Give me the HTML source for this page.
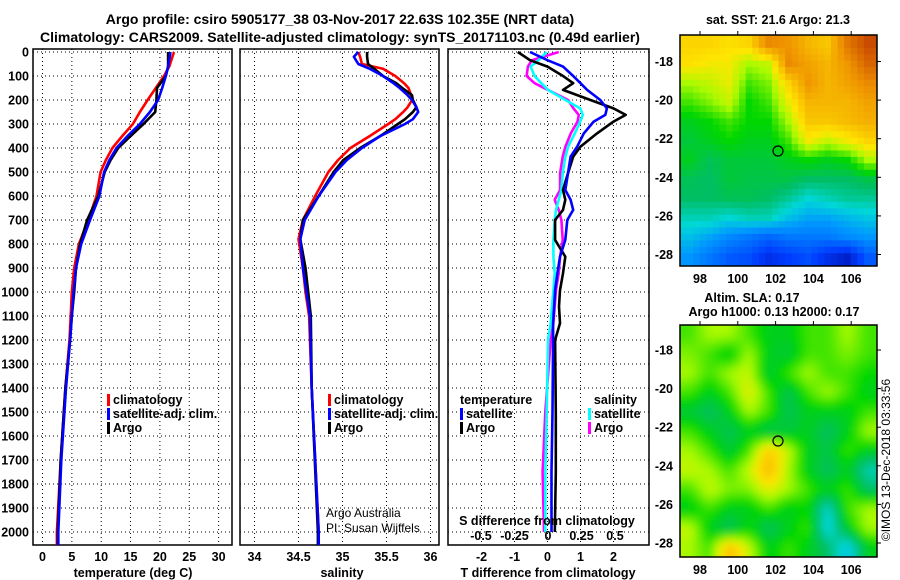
<!DOCTYPE html>
<html><head><meta charset="utf-8">
<style>
html,body{margin:0;padding:0;background:#fff;}
svg{display:block;font-family:"Liberation Sans",Arial,sans-serif;}
.b{font-weight:bold;font-size:12.5px;}
.t{font-weight:bold;font-size:14px;}
</style></head>
<body>
<svg id="chart" width="900" height="580" viewBox="0 0 900 580">
<defs>
<filter id="blur" x="-5%" y="-5%" width="110%" height="110%"><feGaussianBlur stdDeviation="4"/></filter>
<clipPath id="clipSst"><rect x="680" y="35" width="197" height="231"/></clipPath>
<clipPath id="clipSla"><rect x="680" y="325" width="197" height="232"/></clipPath>
<clipPath id="clipP1"><rect x="33" y="49" width="199" height="496"/></clipPath>
<clipPath id="clipP2"><rect x="240" y="49" width="199" height="496"/></clipPath>
<clipPath id="clipP3"><rect x="448" y="49" width="201" height="496"/></clipPath>
</defs>
<text class="t" x="340" y="24" text-anchor="middle">Argo profile: csiro 5905177_38 03-Nov-2017 22.63S 102.35E (NRT data)</text>
<text class="t" x="340" y="42" text-anchor="middle">Climatology: CARS2009. Satellite-adjusted climatology: synTS_20171103.nc (0.49d earlier)</text>
<g id="grids"></g>
<g id="series"></g>
<g id="labels"></g>
<g id="maps"></g>
</svg>
<script>
// ---------- profile data ----------
const tDepth = [0,60,100,150,200,250,300,350,400,450,500,600,700,800,900,1000,1100,1200,1400,1700,2000,2055];
const tClim  = [22.4,21.6,20.7,19.3,17.9,16.6,15.4,13.6,11.9,10.8,9.9,9.2,7.8,6.2,5.4,5.0,4.8,4.6,3.9,3.1,2.45,2.45];
const tSat   = [21.8,21.4,21.0,20.4,19.7,18.3,16.6,14.5,12.6,11.4,10.5,9.7,8.1,6.6,5.7,5.3,5.0,4.7,4.0,3.2,2.7,2.7];
const tArgo  = [21.4,21.4,21.0,19.5,19.4,19.2,17.2,15.0,12.9,11.6,10.6,9.5,7.6,6.4,5.7,5.4,5.0,4.7,3.9,3.1,2.6,2.6];
const sDepth = [0,20,50,70,100,130,150,180,200,230,250,280,300,350,400,450,500,600,700,780,900,1000,1100,1400,2000,2055];
const sClim  = [35.18,35.2,35.22,35.46,35.60,35.70,35.75,35.78,35.79,35.74,35.69,35.60,35.52,35.31,35.09,34.95,34.84,34.69,34.55,34.50,34.55,34.58,34.62,34.65,34.73,34.73];
const sSat   = [35.18,35.13,35.18,35.31,35.46,35.58,35.65,35.74,35.79,35.84,35.86,35.80,35.71,35.43,35.22,35.05,34.92,34.73,34.57,34.52,34.55,34.59,34.63,34.65,34.73,34.73];
const sArgo  = [35.28,35.28,35.29,35.36,35.46,35.61,35.68,35.79,35.80,35.84,35.80,35.71,35.63,35.43,35.20,35.01,34.90,34.73,34.55,34.52,34.58,34.61,34.64,34.65,34.72,34.72];
const dDepth = [0,34,61,100,130,158,200,235,262,290,339,394,436,505,575,616,658,700,783,853,922,992,1061,1130,1200,1500,1750,2000];
const dTArgo = [-0.9,-0.53,0,0.47,0.78,0.47,1.3,2.0,2.37,2.0,1.5,1.0,0.78,0.62,0.47,0.54,0.47,0.23,0.23,0.54,0.47,0.38,0.35,0.38,0.23,0.25,0.25,0.22];
const dTSat  = [-0.53,0,0.47,0.78,1.0,1.2,1.6,1.8,1.75,1.4,1.1,0.9,0.7,0.62,0.54,0.7,0.78,0.6,0.54,0.38,0.3,0.23,0.2,0.17,0.17,0.15,0.12,0.12];
const dSArgo = [0.08,-0.12,-0.15,-0.16,-0.1,0,0.15,0.19,0.23,0.22,0.17,0.13,0.11,0.09,0.09,0.05,0.08,0.1,0.11,0.09,0.08,0.06,0.05,0.04,0.02,-0.02,-0.04,-0.03];
const dSSat  = [-0.01,-0.07,-0.13,-0.1,-0.05,0,0.13,0.24,0.26,0.24,0.2,0.15,0.13,0.11,0.1,0.08,0.06,0.05,0.04,0.04,0.05,0.04,0.03,0.02,0.0,-0.01,-0.02,-0.02];
const depthTicks = [0,100,200,300,400,500,600,700,800,900,1000,1100,1200,1300,1400,1500,1600,1700,1800,1900,2000];
const tTicks = [0,5,10,15,20,25,30];
const sTicks = [34,34.5,35,35.5,36];
const dtTicks = [-2,-1,0,1,2];
const dsTicks = [-0.5,-0.25,0,0.25,0.5];
const latTicks = [-18,-20,-22,-24,-26,-28];
const lonTicks = [98,100,102,104,106];

// ---------- scales ----------
const yD = d => 52 + 0.24*d;
const xT = t => 42.5 + 5.87*t;
const xS = s => 254.5 + 88*(s-34);
const xDT = v => 547.5 + 33*v;
const xDS = v => 548 + 134*v;
const NS = "http://www.w3.org/2000/svg";
function mk(tag, attrs, parent){ const e=document.createElementNS(NS,tag); for(const k in attrs) e.setAttribute(k,attrs[k]); parent.appendChild(e); return e; }
const G = document.getElementById('grids'), S = document.getElementById('series'), L = document.getElementById('labels'), M = document.getElementById('maps');

const panels = [
 {name:'temperature', x0:33, x1:232, ticks:tTicks, fx:xT, title:'temperature (deg C)', tx:133},
 {name:'salinity', x0:240, x1:439, ticks:sTicks, fx:xS, title:'salinity', tx:342},
 {name:'difference', x0:448, x1:649, ticks:dtTicks, fx:xDT, title:'T difference from climatology', tx:548}
];
panels.forEach(p=>{
  depthTicks.forEach(d=>{
    const l = mk('line',{x1:p.x0,x2:p.x1,y1:yD(d),y2:yD(d),stroke:'#000','stroke-width':1,'stroke-dasharray':'1,3'},G);
    
    
  });
  p.ticks.forEach(v=>{
    const l = mk('line',{x1:p.fx(v),x2:p.fx(v),y1:49,y2:545,stroke:'#000','stroke-width':1,'stroke-dasharray':'1,3'},G);
    
    
    const tx = mk('text',{x:p.fx(v),y:561,'text-anchor':'middle',class:'b'},L);
    tx.textContent = String(v);
    
    
  });
  const r = mk('rect',{x:p.x0,y:49,width:p.x1-p.x0,height:496,fill:'none',stroke:'#000','stroke-width':1.5},G);
  
  
  const at = mk('text',{x:p.tx,y:577,'text-anchor':'middle',class:'b'},L);
  at.textContent = p.title;
  
  
});
depthTicks.forEach(d=>{
  const tx = mk('text',{x:29,y:yD(d)+4.5,'text-anchor':'end',class:'b'},L);
  tx.textContent = String(d);
  
  
});
dsTicks.forEach(v=>{
  const tx = mk('text',{x:xDS(v),y:540,'text-anchor':'middle',class:'b'},L);
  tx.textContent = String(v);
  
  
});
const sdt = mk('text',{x:547,y:525,'text-anchor':'middle',class:'b'},L);
sdt.textContent = 'S difference from climatology';



function line(depths, vals, fx, color, name, clip){
  const pts = depths.map((d,i)=>fx(vals[i]).toFixed(1)+','+yD(d).toFixed(1)).join(' ');
  const pl = mk('polyline',{points:pts,fill:'none',stroke:color,'stroke-width':2.6,'stroke-linejoin':'round','clip-path':'url(#'+clip+')'},S);
  
  
}
line(tDepth,tClim,xT,'#ff0000','temperature-climatology-line','clipP1');
line(tDepth,tArgo,xT,'#000000','temperature-argo-line','clipP1');
line(tDepth,tSat,xT,'#0000ff','temperature-satellite-line','clipP1');
line(sDepth,sClim,xS,'#ff0000','salinity-climatology-line','clipP2');
line(sDepth,sArgo,xS,'#000000','salinity-argo-line','clipP2');
line(sDepth,sSat,xS,'#0000ff','salinity-satellite-line','clipP2');
line(dDepth,dSArgo,xDS,'#ff00ff','s-diff-argo-line','clipP3');
line(dDepth,dSSat,xDS,'#00ffff','s-diff-satellite-line','clipP3');
line(dDepth,dTArgo,xDT,'#000000','t-diff-argo-line','clipP3');
line(dDepth,dTSat,xDT,'#0000ff','t-diff-satellite-line','clipP3');

function legend(x,y,color,label,name){
  const r = mk('rect',{x:x,y:y-10,width:3,height:12,fill:color},L);
  
  
  const t = mk('text',{x:x+6,y:y,class:'b'},L);
  t.textContent = label;
  
  
}
legend(107,404,'#ff0000','climatology','legend-temp-climatology');
legend(107,418,'#0000ff','satellite-adj. clim.','legend-temp-satellite');
legend(107,432,'#000000','Argo','legend-temp-argo');
legend(328,404,'#ff0000','climatology','legend-sal-climatology');
legend(328,418,'#0000ff','satellite-adj. clim.','legend-sal-satellite');
legend(328,432,'#000000','Argo','legend-sal-argo');
legend(460,418,'#0000ff','satellite','legend-tdiff-satellite');
legend(460,432,'#000000','Argo','legend-tdiff-argo');
legend(588,418,'#00ffff','satellite','legend-sdiff-satellite');
legend(588,432,'#ff00ff','Argo','legend-sdiff-argo');
</script>
<script>
// ---------- map data (colormap values 0..1) ----------
const sstGrid = [
[.70,.70,.68,.70,.82,.80,.75,.72,.85,.92],
[.68,.66,.66,.60,.62,.82,.78,.75,.80,.88],
[.60,.62,.65,.55,.58,.70,.80,.75,.78,.82],
[.55,.58,.62,.52,.55,.65,.75,.75,.75,.78],
[.50,.52,.55,.52,.52,.60,.72,.72,.74,.76],
[.48,.50,.52,.50,.50,.55,.66,.62,.66,.70],
[.50,.46,.48,.48,.48,.50,.52,.50,.52,.60],
[.46,.45,.48,.47,.47,.47,.45,.45,.45,.47],
[.45,.45,.46,.46,.45,.42,.38,.40,.42,.42],
[.40,.40,.38,.40,.40,.35,.32,.32,.34,.36],
[.35,.32,.28,.25,.22,.25,.25,.25,.28,.30],
[.30,.25,.20,.18,.12,.15,.18,.12,.08,.20]];
const slaGrid = [
[.55,.60,.60,.55,.50,.50,.55,.55,.60,.55],
[.58,.55,.50,.60,.50,.48,.55,.55,.58,.55],
[.60,.55,.60,.62,.48,.55,.60,.55,.55,.52],
[.55,.50,.55,.65,.55,.46,.55,.60,.55,.50],
[.48,.45,.50,.60,.55,.46,.50,.50,.50,.55],
[.55,.50,.46,.50,.46,.48,.50,.45,.50,.60],
[.60,.55,.48,.55,.72,.62,.50,.47,.55,.50],
[.62,.60,.55,.62,.75,.60,.50,.45,.50,.40],
[.55,.62,.58,.58,.65,.60,.55,.50,.55,.45],
[.50,.55,.50,.50,.55,.50,.52,.38,.55,.60],
[.62,.50,.45,.52,.45,.50,.55,.36,.50,.60],
[.60,.55,.74,.62,.50,.55,.50,.45,.35,.50]];
const cmapStops = [
 [0,[0,0,140]],[0.15,[0,60,255]],[0.3,[0,150,255]],[0.38,[0,215,215]],[0.45,[0,190,100]],
 [0.52,[0,215,0]],[0.6,[170,250,0]],[0.67,[255,230,0]],[0.8,[240,150,0]],[0.9,[210,90,0]],[1,[170,20,0]]];
function cmap(v){
  v=Math.max(0,Math.min(1,v));
  for(let i=1;i<cmapStops.length;i++){
    if(v<=cmapStops[i][0]){
      const a=cmapStops[i-1], b=cmapStops[i], f=(v-a[0])/(b[0]-a[0]);
      return 'rgb('+[0,1,2].map(k=>Math.round(a[1][k]+(b[1][k]-a[1][k])*f)).join(',')+')';
    }
  }
  return 'rgb(170,20,0)';
}
function sample(grid, fy, fx){
  const rows=grid.length, cols=grid[0].length;
  const y=Math.max(0,Math.min(rows-1,fy*rows-0.5)), x=Math.max(0,Math.min(cols-1,fx*cols-0.5));
  const y0=Math.floor(y), x0=Math.floor(x), y1=Math.min(rows-1,y0+1), x1=Math.min(cols-1,x0+1);
  const dy=y-y0, dx=x-x0;
  return grid[y0][x0]*(1-dx)*(1-dy)+grid[y0][x1]*dx*(1-dy)+grid[y1][x0]*(1-dx)*dy+grid[y1][x1]*dx*dy;
}
const lonX = lon => 700 + (lon-98)*18.9;
function drawMap(grid, x0, y0, w, h, clip, blur, name, latTop, latStep, nx, ny){
  const g = mk('g',{'clip-path':'url(#'+clip+')'},M);
  
  
  const inner = mk('g', blur?{filter:'url(#blur)'}:{}, g);
  const cw = w/nx, ch = h/ny;
  for(let i=0;i<ny;i++) for(let j=0;j<nx;j++){
    const v = sample(grid,(i+0.5)/ny,(j+0.5)/nx);
    const ex = blur?8:0;
    const r = mk('rect',{x:(x0+j*cw-(j==0?ex:0)).toFixed(1),y:(y0+i*ch-(i==0?ex:0)).toFixed(1),width:(cw+0.6+(j==0||j==nx-1?ex:0)).toFixed(1),height:(ch+0.6+(i==0||i==ny-1?ex:0)).toFixed(1),fill:cmap(v)},inner);
    
    
  }
  const fr = mk('rect',{x:x0,y:y0,width:w,height:h,fill:'none',stroke:'#000','stroke-width':1.5},M);
  
  
  latTicks.forEach(lat=>{
    const y = latTop + (-18-lat)/2*latStep;
    mk('line',{x1:x0+w,x2:x0+w+4,y1:y,y2:y,stroke:'#000'},M);
    const t = mk('text',{x:673,y:y+4.5,'text-anchor':'end',class:'b'},M);
    t.textContent = String(lat);
    
    
  });
  lonTicks.forEach(lon=>{
    mk('line',{x1:lonX(lon),x2:lonX(lon),y1:y0-4,y2:y0,stroke:'#000'},M);
    const t = mk('text',{x:lonX(lon),y:y0+h+17,'text-anchor':'middle',class:'b'},M);
    t.textContent = String(lon);
    
    
  });
}
drawMap(sstGrid,680,35,197,231,'clipSst',false,'sst-map',61.5,38.6,30,36);
drawMap(slaGrid,680,325,197,232,'clipSla',true,'sla-map',350,38.6,40,48);
[[778,151],[778,441]].forEach(p=>{
  const c = mk('circle',{cx:p[0],cy:p[1],r:5,fill:'none',stroke:'#000','stroke-width':1.2},M);
  
  
});
function txt(x,y,s,name,extra){
  const t = mk('text',Object.assign({x:x,y:y,'text-anchor':'middle',class:'b'},extra||{}),M);
  t.textContent = s;
  
  
}
txt(778,24,'sat. SST: 21.6 Argo: 21.3','sst-map-title');
txt(752,302,'Altim. SLA: 0.17','sla-map-title');
txt(774,316,'Argo h1000: 0.13 h2000: 0.17','sla-map-subtitle');
txt(890,460,'©IMOS 13-Dec-2018 03:33:56','timestamp-credit',{transform:'rotate(-90 890 460)',class:'',style:'font-size:12px'});
const a1 = mk('text',{x:326,y:517,style:'font-size:12px'},M);
a1.textContent='Argo Australia';


const a2 = mk('text',{x:326,y:532,style:'font-size:12px'},M);
a2.textContent='PI: Susan Wijffels';


const tt = mk('text',{x:460,y:404,class:'b'},M); tt.textContent='temperature';


const st = mk('text',{x:637,y:404,class:'b','text-anchor':'end'},M); st.textContent='salinity';


</script>
</body></html>
